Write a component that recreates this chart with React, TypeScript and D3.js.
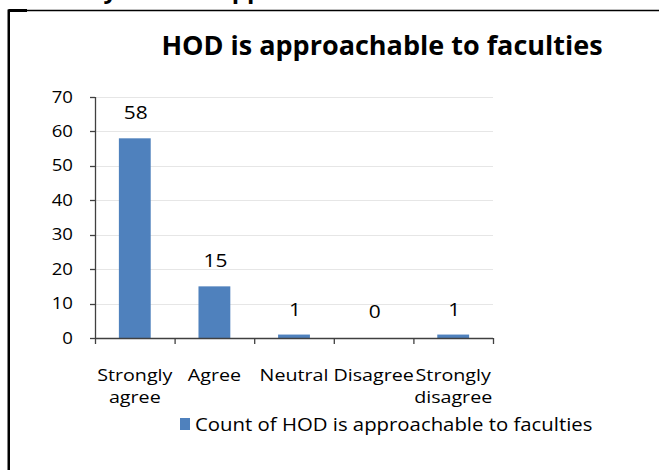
import React from "react";
import * as d3 from "d3";

const categories = ["Strongly agree", "Agree", "Neutral", "Disagree", "Strongly disagree"];
const counts = [58, 15, 1, 0, 1];
const yTicks = [0, 10, 20, 30, 40, 50, 60, 70];
const title = "HOD is approachable to faculties";
const legendLabel = "Count of HOD is approachable to faculties";
const headingFragment = "Faculty: HOD is approachable";

const W = 659;
const H = 470;
const FONT = "'Open Sans', 'Noto Sans', sans-serif";

function SText({ x, y, sx, anchor = "start", size, children, weight = "normal" }: any) {
  return (
    <text transform={`translate(${x},${y}) scale(${sx},1)`} textAnchor={anchor} fontSize={size} fontWeight={weight} fill="#000">
      {children}
    </text>
  );
}

export default function App() {
  const left = 95, right = 493, top = 97, bottom = 338;
  const x = d3.scaleBand<string>().domain(categories).range([left, right]).paddingInner(0.6).paddingOuter(0.3);
  const band = d3.scaleBand<string>().domain(categories).range([left, right]);
  const y = d3.scaleLinear().domain([0, 70]).range([bottom, top]);
  const tickEdges = [left, ...categories.map((c) => (band(c) as number) + band.bandwidth())];

  return (
    <svg width={W} height={H} style={{ position: "absolute", left: 0, top: 0, background: "#fff" }} fontFamily={FONT}>
      <rect x={0} y={0} width={W} height={H} fill="#fff" />
      {/* partial heading above frame */}
      <text x={30} y={-2} fontSize={24} fontWeight="bold" fill="#000">{headingFragment}</text>
      {/* frame */}
      <line x1={8.5} x2={W} y1={10.5} y2={10.5} stroke="#000" strokeWidth={1.5} />
      <line x1={8.5} x2={27} y1={10.5} y2={10.5} stroke="#000" strokeWidth={3} />
      <line x1={8.75} x2={8.75} y1={9.5} y2={H} stroke="#000" strokeWidth={2.5} />

      <text x={382} y={55} textAnchor="middle" fontSize={27} fontWeight="bold" fill="#000">{title}</text>

      {/* gridlines */}
      {yTicks.filter((t) => t > 0).map((t) => (
        <line key={t} x1={left} x2={right} y1={Math.round(y(t)) + 0.5} y2={Math.round(y(t)) + 0.5} stroke="#e6e6e6" strokeWidth={1} />
      ))}

      {/* bars */}
      {categories.map((c, i) => (
        <rect key={c} x={x(c)} y={y(counts[i])} width={x.bandwidth()} height={y(0) - y(counts[i])} fill="#4f81bd" />
      ))}

      {/* data labels */}
      {categories.map((c, i) => (
        <SText key={c} x={(x(c) as number) + x.bandwidth() / 2 + 1} y={Math.min(y(counts[i]) - 19, y(1) - 17)} anchor="middle" size={19} sx={1.1}>{counts[i]}</SText>
      ))}

      {/* y axis */}
      <line x1={left + 0.5} x2={left + 0.5} y1={top} y2={bottom} stroke="#404040" strokeWidth={1.3} />
      {yTicks.map((t) => (
        <g key={t}>
          <line x1={left - 5} x2={left} y1={Math.round(y(t)) + 0.5} y2={Math.round(y(t)) + 0.5} stroke="#404040" strokeWidth={1.3} />
          <SText x={73} y={y(t) + 5.5} anchor="end" size={15.5} sx={1.2}>{t}</SText>
        </g>
      ))}

      {/* x axis */}
      <line x1={left} x2={right} y1={bottom + 0.5} y2={bottom + 0.5} stroke="#404040" strokeWidth={1.3} />
      {tickEdges.map((e, i) => (
        <line key={i} x1={e + 0.5} x2={e + 0.5} y1={bottom} y2={bottom + 6} stroke="#404040" strokeWidth={1.3} />
      ))}
      {categories.map((c) => {
        const lines = c.includes(" ") ? c.split(" ") : [c];
        const cx = (band(c) as number) + band.bandwidth() / 2;
        return (
          <text key={c} transform={`translate(${cx},381) scale(1.27,1)`} textAnchor="middle" fontSize={15.5} fill="#000">
            {lines.map((l, j) => (
              <tspan key={j} x={0} dy={j === 0 ? 0 : 22.5}>{l}</tspan>
            ))}
          </text>
        );
      })}

      {/* legend */}
      <rect x={180} y={418} width={10} height={12} fill="#4f81bd" />
      <SText x={195} y={431} size={18.5} sx={1.1}>{legendLabel}</SText>
    </svg>
  );
}
